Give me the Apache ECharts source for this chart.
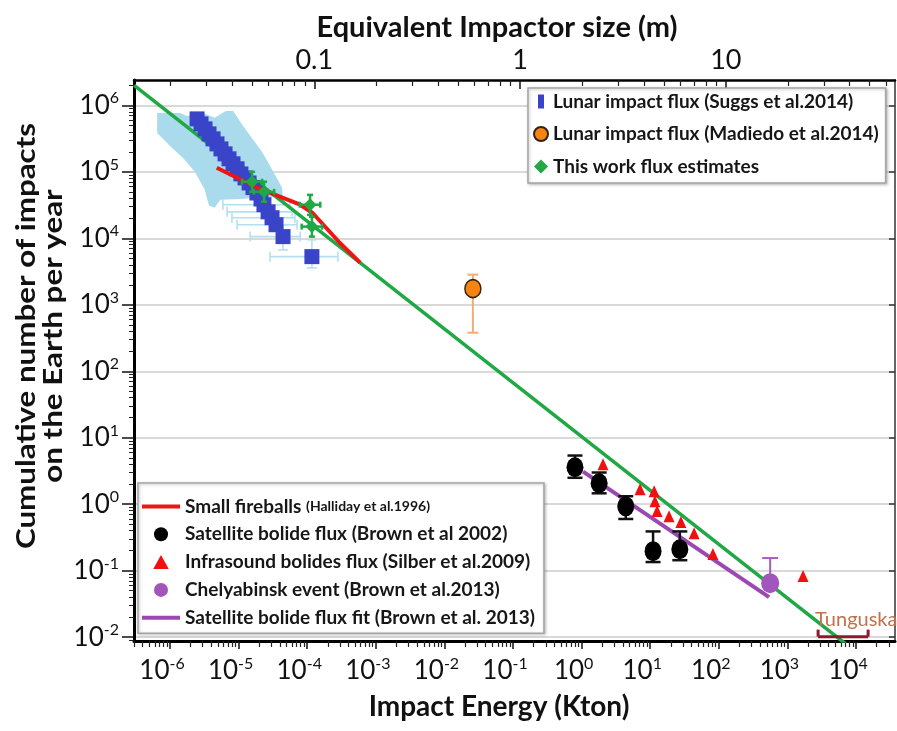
<!DOCTYPE html>
<html>
<head>
<meta charset="utf-8">
<title>Impact flux</title>
<script src="https://cdn.jsdelivr.net/npm/echarts@6/dist/echarts.min.js"></script>
<style>
  html, body { margin: 0; padding: 0; background: #ffffff; }
  #chart { width: 897px; height: 731px; }
</style>
</head>
<body>
<div id="chart"></div>
<script>
// ---------------- Axis ranges (log10 units) ----------------
const energyLogRange = [-6.525, 4.568];   // impact energy, kton
const countLogRange  = [-2.057, 6.381];   // cumulative impacts per year
const sizeLogRange   = [-1.876, 1.822];   // equivalent impactor size, m

const energyDecades = [-6, -5, -4, -3, -2, -1, 0, 1, 2, 3, 4];
const countDecades  = [-2, -1, 0, 1, 2, 3, 4, 5, 6];
const sizeTicks      = [0.1, 1, 10];
const sizeTickLabels = ['0.1', '1', '10'];

// ---------------- Lunar impact flux (Suggs et al. 2014) ----------------
const suggsE = [2.48e-6, 2.83e-6, 3.24e-6, 3.70e-6, 4.24e-6, 4.84e-6, 5.53e-6, 6.34e-6,
                7.24e-6, 8.28e-6, 9.5e-6, 1.08e-5, 1.24e-5, 1.42e-5, 1.62e-5, 1.85e-5,
                2.12e-5, 2.34e-5, 2.69e-5, 3.07e-5, 3.51e-5, 4.44e-5, 1.17e-4];
const suggsN = [6.25e5, 5.26e5, 4.43e5, 3.72e5, 3.13e5, 2.63e5, 2.21e5, 1.86e5,
                1.57e5, 1.32e5, 1.11e5, 9.3e4, 8.1e4, 6.8e4, 5.8e4, 4.8e4,
                3.9e4, 3.2e4, 2.5e4, 2.04e4, 1.6e4, 1.06e4, 5.3e3];
// outline of the overlapping uncertainty envelope of the dense points
const suggsBandE = [6.5e-7, 1.4e-6, 1.77e-6, 3.0e-6, 4.5e-6, 6.5e-6, 8.3e-6, 1.16e-5,
                    1.57e-5, 2.19e-5, 2.87e-5, 3.6e-5, 4.3e-5, 4.4e-5, 2.19e-5, 1.05e-5,
                    5.4e-6, 4.5e-6, 3.7e-6, 3.2e-6, 2.3e-6, 1.55e-6, 1.0e-6, 6.5e-7];
const suggsBandN = [7.7e5, 7.7e5, 6.9e5, 7.7e5, 6.5e5, 8.2e5, 8.2e5, 4.9e5,
                    3.2e5, 2.0e5, 1.23e5, 8.1e4, 5.75e4, 4.2e4, 4.1e4, 3.9e4,
                    3.8e4, 2.9e4, 3.1e4, 5.4e4, 1.0e5, 1.62e5, 2.45e5, 3.85e5];
// error bars of the sparse low-count points
const suggsErrE   = [2.34e-5, 2.69e-5, 3.07e-5, 3.51e-5, 4.44e-5, 1.17e-4];
const suggsErrN   = [3.2e4, 2.5e4, 2.04e4, 1.6e4, 1.06e4, 5.3e3];
const suggsErrELo = [5.9e-6, 6.8e-6, 8.0e-6, 9.5e-6, 1.47e-5, 2.87e-5];
const suggsErrEHi = [5.6e-5, 6.0e-5, 6.6e-5, 7.1e-5, 7.9e-5, 2.8e-4];
const suggsErrNLo = [2.6e4, 2.0e4, 1.66e4, 1.3e4, 6.7e3, 3.6e3];
const suggsErrNHi = [3.9e4, 3.1e4, 2.5e4, 1.97e4, 1.6e4, 9.5e3];

// ---------------- Lunar impact flux (Madiedo et al. 2014) ----------------
const madiedoE = [0.026];
const madiedoN = [1750];
const madiedoNLo = [380];
const madiedoNHi = [2840];

// ---------------- This work flux estimates ----------------
const thisWorkE   = [1.57e-5, 2.35e-5, 1.10e-4, 1.17e-4];
const thisWorkN   = [7.1e4, 5.0e4, 3.2e4, 1.5e4];
const thisWorkELo = [1.12e-5, 1.67e-5, 7.8e-5, 8.3e-5];
const thisWorkEHi = [2.2e-5, 3.3e-5, 1.55e-4, 1.65e-4];
const thisWorkNLo = [5.0e4, 3.55e4, 2.25e4, 1.06e4];
const thisWorkNHi = [1.0e5, 7.1e4, 4.5e4, 2.1e4];
// power-law flux line
const fluxLineE = [3e-7, 4e4];
const fluxLineN = [2.0e6, 1.95e-3];

// ---------------- Small fireballs (Halliday et al. 1996) ----------------
const hallidayE = [4.8e-6, 1.85e-5, 7.9e-5, 1.2e-4, 3.0e-4, 5.9e-4];
const hallidayN = [1.15e5, 5.8e4, 3.2e4, 2.4e4, 8.5e3, 4.3e3];

// ---------------- Satellite bolide flux (Brown et al. 2002) ----------------
const brownE   = [0.80, 1.8, 4.4, 11, 27];
const brownN   = [3.6, 2.07, 0.93, 0.197, 0.21];
const brownNLo = [2.5, 1.46, 0.60, 0.135, 0.144];
const brownNHi = [5.4, 3.0, 1.32, 0.39, 0.39];

// ---------------- Infrasound bolides flux (Silber et al. 2009) ----------------
const silberE = [2.05, 7.1, 11.4, 11.7, 12.6, 18.8, 28, 43.6, 82, 1690];
const silberN = [4.0, 1.68, 1.57, 1.11, 0.79, 0.66, 0.54, 0.367, 0.178, 0.083];

// ---------------- Chelyabinsk event (Brown et al. 2013) ----------------
const chelyabinskE = [560];
const chelyabinskN = [0.065];
const chelyabinskNHi = [0.155];

// ---------------- Satellite bolide flux fit (Brown et al. 2013) ----------------
const brownFitE = [1.05, 540];
const brownFitN = [3.1, 0.040];

// ---------------- Tunguska ----------------
const tunguskaE = [2800, 15000];
const tunguskaN = 0.0102;
const tunguskaLabel = 'Tunguska';

// ---------------- Series names ----------------
const NAME_SUGGS = 'Lunar impact flux (Suggs et al.2014)';
const NAME_MADIEDO = 'Lunar impact flux (Madiedo et al.2014)';
const NAME_THIS = 'This work flux estimates';
const NAME_HALLIDAY = 'Small fireballs (Halliday et al.1996)';
const NAME_BROWN = 'Satellite bolide flux (Brown et al 2002)';
const NAME_SILBER = 'Infrasound bolides flux (Silber et al.2009)';
const NAME_CHELY = 'Chelyabinsk event (Brown et al.2013)';
const NAME_FIT = 'Satellite bolide flux fit (Brown et al. 2013)';

// ---------------- Helpers ----------------
const FONT = 'Lato, "Noto Sans", sans-serif';
const lg = v => (v == null ? '-' : Math.log10(v));
const pairs = (xs, ys) => xs.map((x, i) => [lg(x), lg(ys[i])]);

function minorTicks(range) {
  const out = [];
  for (let d = Math.floor(range[0]) - 1; d <= Math.ceil(range[1]); d++) {
    for (let k = 2; k <= 9; k++) {
      const v = d + Math.log10(k);
      if (v > range[0] && v < range[1]) out.push(v);
    }
  }
  return out;
}

// rows: [x, y, xLo, xHi, yLo, yHi] in log10 units ('-' when absent)
function errorRows(xs, ys, xLo, xHi, yLo, yHi) {
  return xs.map((x, i) => [lg(x), lg(ys[i]),
    xLo ? lg(xLo[i]) : '-', xHi ? lg(xHi[i]) : '-',
    yLo ? lg(yLo[i]) : '-', yHi ? lg(yHi[i]) : '-']);
}

function errorBarSeries(rows, color, width, cap, z) {
  return {
    type: 'custom',
    silent: true,
    z: z,
    data: rows,
    renderItem: function (params, api) {
      const x = api.value(0), y = api.value(1);
      const style = { stroke: color, lineWidth: width, fill: null };
      const kids = [];
      const seg = (a, b) => kids.push({ type: 'line', shape: { x1: a[0], y1: a[1], x2: b[0], y2: b[1] }, style });
      const xl = api.value(2), xh = api.value(3), yl = api.value(4), yh = api.value(5);
      const c = api.coord([x, y]);
      if (!isNaN(xl) || !isNaN(xh)) {
        const p0 = isNaN(xl) ? c : api.coord([xl, y]);
        const p1 = isNaN(xh) ? c : api.coord([xh, y]);
        seg(p0, p1);
        if (!isNaN(xl)) seg([p0[0], p0[1] - cap / 2], [p0[0], p0[1] + cap / 2]);
        if (!isNaN(xh)) seg([p1[0], p1[1] - cap / 2], [p1[0], p1[1] + cap / 2]);
      }
      if (!isNaN(yl) || !isNaN(yh)) {
        const p0 = isNaN(yl) ? c : api.coord([x, yl]);
        const p1 = isNaN(yh) ? c : api.coord([x, yh]);
        seg(p0, p1);
        if (!isNaN(yl)) seg([p0[0] - cap / 2, p0[1]], [p0[0] + cap / 2, p0[1]]);
        if (!isNaN(yh)) seg([p1[0] - cap / 2, p1[1]], [p1[0] + cap / 2, p1[1]]);
      }
      return { type: 'group', children: kids };
    }
  };
}

const supRich = {
  b: { fontSize: 26, lineHeight: 30, fontFamily: FONT, color: '#111' },
  s: { fontSize: 16, lineHeight: 16, fontFamily: FONT, color: '#111', verticalAlign: 'top' }
};

const chart = echarts.init(document.getElementById('chart'));

const legendBox = {
  orient: 'vertical', selectedMode: false,
  backgroundColor: '#ffffff', borderColor: '#a5a5a5', borderWidth: 1.5,
  shadowBlur: 3, shadowColor: 'rgba(0,0,0,0.25)', shadowOffsetX: 1, shadowOffsetY: 1
};

const option = {
  animation: false,
  backgroundColor: '#ffffff',
  grid: { left: 134, right: 2, top: 80, bottom: 90, containLabel: false },
  xAxis: [
    { // impact energy, major ticks
      type: 'value', position: 'bottom',
      min: energyLogRange[0], max: energyLogRange[1],
      axisLine: { show: true, onZero: false, lineStyle: { color: '#000', width: 3 } },
      axisTick: { show: true, inside: false, length: 8, customValues: energyDecades, lineStyle: { color: '#111', width: 1.5 } },
      axisLabel: {
        customValues: energyDecades, margin: 15, padding: [0, 16, 0, 0],
        formatter: v => '{b|10}{s|' + Math.round(v) + '}', rich: supRich
      },
      splitLine: { show: false }
    },
    { // impact energy, minor ticks
      type: 'value', position: 'bottom',
      min: energyLogRange[0], max: energyLogRange[1],
      axisLine: { show: false, onZero: false },
      axisTick: { show: true, inside: false, length: 6, customValues: minorTicks(energyLogRange), lineStyle: { color: '#222', width: 1.2 } },
      axisLabel: { show: false }, splitLine: { show: false }
    },
    { // equivalent impactor size, major ticks
      type: 'value', position: 'top',
      min: sizeLogRange[0], max: sizeLogRange[1],
      axisLine: { show: true, onZero: false, lineStyle: { color: '#000', width: 2.5 } },
      axisTick: { show: true, inside: true, length: 9, customValues: sizeTicks.map(Math.log10), lineStyle: { color: '#111', width: 1.5 } },
      axisLabel: {
        customValues: sizeTicks.map(Math.log10), margin: 6,
        fontSize: 27, fontFamily: FONT, color: '#111',
        formatter: v => sizeTickLabels[sizeTicks.map(Math.log10).findIndex(t => Math.abs(t - v) < 1e-6)]
      },
      splitLine: { show: false },
      name: 'Equivalent Impactor size (m)', nameLocation: 'middle', nameGap: 38,
      nameTextStyle: { fontSize: 29, fontWeight: 'bold', fontFamily: FONT, color: '#111', padding: [0, 35, 0, 0] }
    },
    { // equivalent impactor size, minor ticks
      type: 'value', position: 'top',
      min: sizeLogRange[0], max: sizeLogRange[1],
      axisLine: { show: false, onZero: false },
      axisTick: { show: true, inside: true, length: 6, customValues: minorTicks(sizeLogRange), lineStyle: { color: '#222', width: 1.2 } },
      axisLabel: { show: false }, splitLine: { show: false }
    }
  ],
  yAxis: [
    { // cumulative number, major ticks + grid
      type: 'value', position: 'left',
      min: countLogRange[0], max: countLogRange[1],
      axisLine: { show: true, onZero: false, lineStyle: { color: '#000', width: 3 } },
      axisTick: { show: true, inside: false, length: 12, customValues: countDecades, lineStyle: { color: '#111', width: 1.5 } },
      axisLabel: {
        customValues: countDecades, margin: 15,
        formatter: v => '{b|10}{s|' + Math.round(v) + '}', rich: supRich
      },
      splitLine: { show: true, lineStyle: { color: '#d9d9d9', width: 2 } }
    },
    { // cumulative number, minor ticks
      type: 'value', position: 'left',
      min: countLogRange[0], max: countLogRange[1],
      axisLine: { show: false, onZero: false },
      axisTick: { show: true, inside: false, length: 5, customValues: minorTicks(countLogRange), lineStyle: { color: '#222', width: 1 } },
      axisLabel: { show: false }, splitLine: { show: false }
    },
    { // right frame
      type: 'value', position: 'right',
      min: countLogRange[0], max: countLogRange[1],
      axisLine: { show: true, onZero: false, lineStyle: { color: '#333', width: 1.5 } },
      axisTick: { show: true, inside: true, length: 6, customValues: countDecades, lineStyle: { color: '#333', width: 1.5 } },
      axisLabel: { show: false }, splitLine: { show: false }
    }
  ],
  legend: [
    Object.assign({}, legendBox, {
      left: 528, top: 88,
      itemWidth: 14, itemHeight: 14, itemGap: 13.5,
      padding: [4, 7, 7, 5],
      textStyle: { fontFamily: FONT, fontWeight: 'bold', fontSize: 19, color: '#161616' },
      data: [
        { name: NAME_SUGGS, icon: 'path://M0,0h6v14h-6z' },
        { name: NAME_MADIEDO, icon: 'circle' },
        { name: NAME_THIS, icon: 'diamond' }
      ]
    }),
    Object.assign({}, legendBox, {
      left: 138, top: 483,
      itemWidth: 38, itemHeight: 14, itemGap: 8.8,
      padding: [14, 9, 6, 4],
      textStyle: {
        fontFamily: FONT, fontWeight: 'bold', fontSize: 19, color: '#161616',
        rich: {
          big: { fontFamily: FONT, fontWeight: 'bold', fontSize: 19, color: '#161616' },
          small: { fontFamily: FONT, fontWeight: 'bold', fontSize: 14, color: '#161616' }
        }
      },
      formatter: name => name === NAME_HALLIDAY
        ? '{big|Small fireballs} {small|(Halliday et al.1996)}' : name,
      data: [
        { name: NAME_HALLIDAY, icon: 'path://M0,0h38v4h-38z' },
        { name: NAME_BROWN, icon: 'circle' },
        { name: NAME_SILBER, icon: 'path://M5,0L10,9L0,9Z' },
        { name: NAME_CHELY, icon: 'circle' },
        { name: NAME_FIT, icon: 'path://M0,0h38v4h-38z' }
      ]
    })
  ],
  graphic: [
    {
      type: 'text', x: 499, y: 707,
      style: { text: 'Impact Energy (Kton)', font: 'bold 28px ' + FONT, fill: '#111',
               align: 'center', verticalAlign: 'middle', textAlign: 'center', textVerticalAlign: 'middle' }
    },
    {
      type: 'text', x: 40, y: 336, rotation: Math.PI / 2, scaleX: 1.16,
      style: { text: 'Cumulative number of impacts\non the Earth per year', font: 'bold 27px ' + FONT,
               fill: '#111', lineHeight: 27,
               align: 'center', verticalAlign: 'middle', textAlign: 'center', textVerticalAlign: 'middle' }
    }
  ],
  series: [
    // uncertainty envelope of the lunar flux points
    {
      type: 'custom', silent: true, z: 1,
      data: [[lg(suggsBandE[0]), lg(suggsBandN[0])]],
      renderItem: function (params, api) {
        const pts = suggsBandE.map((e, i) => api.coord([lg(e), lg(suggsBandN[i])]));
        return { type: 'polygon', shape: { points: pts }, style: { fill: '#a9dbed', stroke: null } };
      }
    },
    errorBarSeries(errorRows(suggsErrE, suggsErrN, suggsErrELo, suggsErrEHi, suggsErrNLo, suggsErrNHi), '#b3e0ef', 1.6, 10, 1),
    {
      name: 'flux line', type: 'line', z: 2, data: pairs(fluxLineE, fluxLineN),
      symbol: 'none', lineStyle: { color: '#1fa843', width: 3.5 }, clip: true
    },
    {
      name: NAME_SUGGS, type: 'scatter', z: 3, data: pairs(suggsE, suggsN),
      symbol: 'rect', symbolSize: 15, itemStyle: { color: '#3a44c8', opacity: 1 }
    },
    {
      name: NAME_HALLIDAY, type: 'line', z: 4, data: pairs(hallidayE, hallidayN),
      symbol: 'none', lineStyle: { color: '#ee1515', width: 4 }, itemStyle: { color: '#ee1515' }
    },
    errorBarSeries(errorRows(thisWorkE, thisWorkN, thisWorkELo, thisWorkEHi, thisWorkNLo, thisWorkNHi), '#1fa843', 2.5, 6, 5),
    {
      name: NAME_THIS, type: 'scatter', z: 6, data: pairs(thisWorkE, thisWorkN),
      symbol: 'diamond', symbolSize: 13, itemStyle: { color: '#1fa843', opacity: 1 }
    },
    errorBarSeries(errorRows(madiedoE, madiedoN, null, null, madiedoNLo, madiedoNHi), '#f6ab72', 2, 11, 5),
    {
      name: NAME_MADIEDO, type: 'scatter', z: 6, data: pairs(madiedoE, madiedoN),
      symbol: 'circle', symbolSize: [16, 18], itemStyle: { color: '#f58413', borderColor: '#332211', borderWidth: 1.5, opacity: 1 }
    },
    {
      name: NAME_FIT, type: 'line', z: 5, data: pairs(brownFitE, brownFitN),
      symbol: 'none', lineStyle: { color: '#9c48b3', width: 4 }, itemStyle: { color: '#9c48b3' }
    },
    errorBarSeries(errorRows(brownE, brownN, null, null, brownNLo, brownNHi), '#111111', 2.5, 15, 6),
    {
      name: NAME_BROWN, type: 'scatter', z: 7, data: pairs(brownE, brownN),
      symbol: 'circle', symbolSize: [17, 20], itemStyle: { color: '#000000', opacity: 1 }
    },
    {
      name: NAME_SILBER, type: 'scatter', z: 7, data: pairs(silberE, silberN),
      symbol: 'triangle', symbolSize: [11, 12], itemStyle: { color: '#f01010', opacity: 1 }
    },
    errorBarSeries(errorRows(chelyabinskE, chelyabinskN, null, null, null, chelyabinskNHi), '#a45cbd', 2, 16, 6),
    {
      name: NAME_CHELY, type: 'scatter', z: 7, data: pairs(chelyabinskE, chelyabinskN),
      symbol: 'circle', symbolSize: [18, 20], itemStyle: { color: '#a255bb', opacity: 1 }
    },
    // Tunguska energy range
    {
      type: 'custom', silent: true, z: 8, clip: false,
      data: [[lg(tunguskaE[0]), lg(tunguskaE[1]), lg(tunguskaN)]],
      renderItem: function (params, api) {
        const a = api.coord([api.value(0), api.value(2)]);
        const b = api.coord([api.value(1), api.value(2)]);
        const st = { stroke: '#8c1a2a', lineWidth: 3, fill: null };
        return {
          type: 'group',
          children: [
            { type: 'line', shape: { x1: a[0], y1: a[1], x2: b[0], y2: b[1] }, style: st },
            { type: 'line', shape: { x1: a[0], y1: a[1], x2: a[0], y2: a[1] - 7 }, style: st },
            { type: 'line', shape: { x1: b[0], y1: b[1], x2: b[0], y2: b[1] - 7 }, style: st },
            { type: 'text', x: a[0] - 3, y: a[1] - 7,
              style: { text: tunguskaLabel, font: '20px ' + FONT, fill: '#c2714b',
                       align: 'left', verticalAlign: 'bottom', textAlign: 'left', textVerticalAlign: 'bottom' } }
          ]
        };
      }
    }
  ]
};

chart.setOption(option);
</script>
</body>
</html>
